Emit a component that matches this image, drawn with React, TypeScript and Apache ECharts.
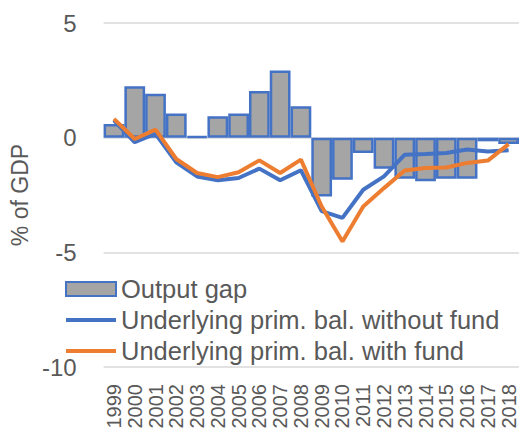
import React, { useEffect, useRef } from "react";
import * as echarts from "echarts";

const years = ["1999","2000","2001","2002","2003","2004","2005","2006","2007","2008","2009","2010","2011","2012","2013","2014","2015","2016","2017","2018"];
const outputGap = [0.6, 2.24, 1.92, 1.05, 0.05, 0.93, 1.05, 2.04, 2.93, 1.37, -2.56, -1.83, -0.67, -1.35, -1.79, -1.9, -1.79, -1.79, -0.16, -0.28];
const withoutFund = [0.75, -0.2, 0.17, -1.08, -1.69, -1.86, -1.76, -1.35, -1.86, -1.42, -3.2, -3.5, -2.27, -1.69, -0.74, -0.71, -0.67, -0.52, -0.6, -0.55];
const withFund = [0.82, -0.06, 0.35, -0.93, -1.54, -1.72, -1.51, -0.99, -1.54, -0.96, -3.0, -4.53, -3.0, -2.2, -1.43, -1.32, -1.3, -1.1, -1.0, -0.28];
const seriesNames = ["Output gap", "Underlying prim. bal. without fund", "Underlying prim. bal. with fund"];

const FONT = "Liberation Sans, Arial, sans-serif";
const LINE_ICON = "path://M0 0H50V4H0Z";

export default function App() {
  const ref = useRef<HTMLDivElement>(null);
  useEffect(() => {
    const chart = echarts.init(ref.current!, null, { renderer: "svg" });
    chart.setOption({
      animation: false,
      backgroundColor: "#ffffff",
      grid: { left: 75, right: 0, top: 23, bottom: 76, containLabel: false },
      legend: {
        orient: "vertical",
        left: 60,
        top: 271,
        itemWidth: 50,
        itemHeight: 14,
        itemGap: 5,
        symbolKeepAspect: true,
        data: [
          { name: seriesNames[0], icon: "rect" },
          { name: seriesNames[1], icon: LINE_ICON },
          { name: seriesNames[2], icon: LINE_ICON },
        ],
        textStyle: { fontFamily: FONT, fontSize: 25.5, color: "#595959", lineHeight: 25.5 },
      },
      xAxis: {
        type: "category",
        data: years,
        boundaryGap: true,
        axisLine: { show: false, onZero: false },
        axisTick: { show: false },
        axisLabel: {
          interval: 0,
          rotate: 90,
          margin: 17,
          fontFamily: FONT,
          fontSize: 20,
          color: "#595959",
        },
      },
      yAxis: {
        type: "value",
        min: -10,
        max: 5,
        interval: 5,
        name: "% of GDP",
        nameLocation: "middle",
        nameGap: 36,
        nameTextStyle: { fontFamily: FONT, fontSize: 23, color: "#595959" },
        axisLine: { show: false },
        axisTick: { show: false },
        axisLabel: { margin: 27, fontFamily: FONT, fontSize: 24, color: "#595959" },
        splitLine: { lineStyle: { color: "#d9d9d9", width: 1.5 } },
      },
      series: [
        {
          name: seriesNames[0],
          type: "bar",
          data: outputGap,
          barCategoryGap: "0%",
          itemStyle: { color: "#a5a5a5", borderColor: "#4472c4", borderWidth: 2.5 },
          z: 2,
        },
        {
          name: seriesNames[1],
          type: "line",
          data: withoutFund,
          symbol: "none",
          lineStyle: { color: "#4472c4", width: 4 },
          itemStyle: { color: "#4472c4" },
          z: 3,
        },
        {
          name: seriesNames[2],
          type: "line",
          data: withFund,
          symbol: "none",
          lineStyle: { color: "#ed7d31", width: 4 },
          itemStyle: { color: "#ed7d31" },
          z: 4,
        },
      ],
    });
    return () => chart.dispose();
  }, []);
  return <div ref={ref} style={{ width: 519, height: 443, position: "absolute", left: 0, top: 0 }} />;
}
